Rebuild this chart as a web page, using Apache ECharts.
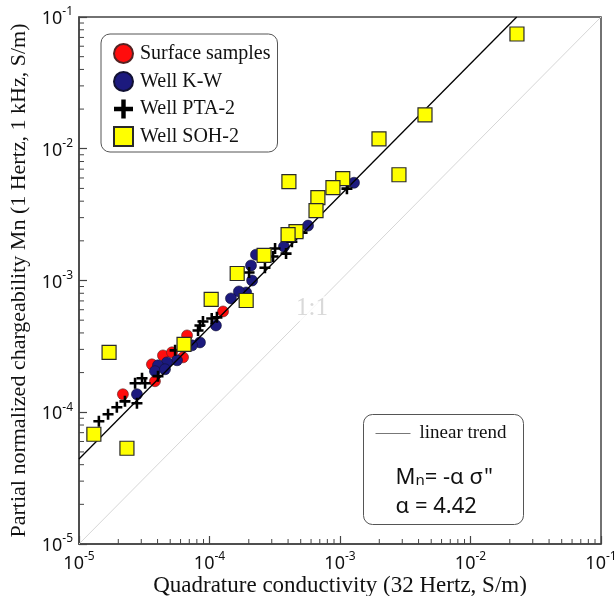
<!DOCTYPE html>
<html>
<head>
<meta charset="utf-8">
<script src="https://cdn.jsdelivr.net/npm/echarts@6/dist/echarts.min.js"></script>
<style>
html,body{margin:0;padding:0;background:#fff;}
#chart{width:616px;height:596px;}
</style>
</head>
<body>
<div id="chart"></div>
<script>
// ---- data (S/m) ----
const surfaceX = [1.27e-4, 6.73e-5, 6.27e-5, 4.40e-5, 3.62e-5, 3.82e-5, 2.17e-5, 5.16e-5];
const surfaceY = [5.82e-4, 3.83e-4, 2.61e-4, 2.70e-4, 2.31e-4, 1.72e-4, 1.37e-4, 2.85e-4];

const kwX = [1.28e-3, 5.69e-4, 3.72e-4, 2.27e-4, 2.08e-4, 2.12e-4, 1.91e-4, 1.68e-4, 1.46e-4, 1.12e-4, 8.45e-5, 7.35e-5, 5.64e-5, 4.72e-5, 4.03e-5, 3.82e-5, 4.56e-5, 2.78e-5];
const kwY = [5.52e-3, 2.61e-3, 1.81e-3, 1.57e-3, 1.30e-3, 1.00e-3, 8.11e-4, 8.26e-4, 7.31e-4, 4.56e-4, 3.39e-4, 3.22e-4, 2.48e-4, 2.39e-4, 2.27e-4, 2.05e-4, 2.12e-4, 1.37e-4];

const ptaX = [1.13e-3, 5.12e-4, 4.28e-4, 3.86e-4, 3.18e-4, 3.07e-4, 2.66e-4, 2.01e-4, 1.14e-4, 1.04e-4, 8.45e-5, 8.17e-5, 8.91e-5, 5.45e-5, 4.03e-5, 3.21e-5, 2.69e-5, 3.04e-5, 2.25e-5, 2.78e-5, 1.95e-5, 1.67e-5, 1.42e-5];
const ptaY = [4.98e-3, 2.31e-3, 1.97e-3, 1.60e-3, 1.75e-3, 1.52e-3, 1.25e-3, 1.15e-3, 5.25e-4, 5.15e-4, 4.56e-4, 4.18e-4, 4.89e-4, 2.95e-4, 1.88e-4, 1.66e-4, 1.66e-4, 1.81e-4, 1.21e-4, 1.17e-4, 1.09e-4, 9.66e-5, 8.55e-5];

const sohX = [0.0227, 4.48e-3, 1.99e-3, 2.83e-3, 1.05e-3, 8.83e-4, 6.77e-4, 6.55e-4, 4.06e-4, 4.60e-4, 4.00e-4, 2.62e-4, 1.63e-4, 1.03e-4, 1.91e-4, 6.38e-5, 1.70e-5, 1.30e-5, 2.33e-5];
const sohY = [0.0743, 0.0181, 0.0119, 6.35e-3, 5.93e-3, 5.07e-3, 4.26e-3, 3.39e-3, 5.62e-3, 2.35e-3, 2.23e-3, 1.55e-3, 1.13e-3, 7.18e-4, 7.05e-4, 3.27e-4, 2.85e-4, 6.81e-5, 5.33e-5];

const alpha = 4.42;                 // linear trend Mn = alpha * sigma''
const trendX = [1e-5, 0.0226];      // extent of the trend line
const oneToOneX = [1e-5, 0.1];      // 1:1 line extent
const oneToOneLabelAt = 6.1e-4;     // where "1:1" sits on the line
const axisMin = 1e-5, axisMax = 0.1;
const minorSteps = [2, 3, 4, 5, 6, 7, 8, 9];
const minorDecades = [-5, -4, -3, -2];

const seriesNames = ['Surface samples', 'Well K-W', 'Well PTA-2', 'Well SOH-2'];

const zip = (a, b) => a.map((v, i) => [v, b[i]]);

const SERIF = '"Liberation Serif","Times New Roman",serif';
const SANS = '"Noto Sans","Open Sans",sans-serif';
const AX = '#444';
const plusPath = 'path://M4.6,0H7.4V4.6H12V7.4H7.4V12H4.6V7.4H0V4.6H4.6Z';

const labelFmt = v => '{b|10}{s|' + Math.round(Math.log10(v)) + '}';
const labelRich = {
  b: {fontFamily: SANS, fontSize: 18, color: '#111', lineHeight: 22, verticalAlign: 'bottom'},
  s: {fontFamily: SANS, fontSize: 12, color: '#111', lineHeight: 13, verticalAlign: 'top'}
};

const chart = echarts.init(document.getElementById('chart'), null, {renderer: 'canvas'});

const option = {
  backgroundColor: '#fff',
  animation: false,
  grid: {left: 79, right: 15, top: 17, bottom: 52, outerBoundsMode: 'none', containLabel: false,
         show: true, borderColor: AX, borderWidth: 1.5, backgroundColor: 'transparent'},
  legend: {
    data: seriesNames,
    orient: 'vertical',
    left: 101, top: 34,
    backgroundColor: '#fff',
    borderColor: '#555', borderWidth: 1, borderRadius: 9,
    padding: [9, 7, 5, 12],
    itemWidth: 19, itemHeight: 19, itemGap: 7,
    textStyle: {fontFamily: SERIF, fontSize: 20, lineHeight: 19, color: '#111', padding: [0, 0, 0, 2]}
  },
  xAxis: {
    type: 'log', logBase: 10, min: axisMin, max: axisMax,
    name: 'Quadrature conductivity (32 Hertz, S/m)',
    nameLocation: 'middle', nameGap: 30, nameMoveOverlap: false,
    nameTextStyle: {fontFamily: SERIF, fontSize: 23, color: '#111'},
    axisLine: {show: true, lineStyle: {color: AX, width: 1.5}},
    axisTick: {show: true, inside: true, length: 8, lineStyle: {color: AX, width: 1.2}},
    axisLabel: {margin: 7, formatter: labelFmt, rich: labelRich, showMaxLabel: true, showMinLabel: true},
    splitLine: {show: false}
  },
  yAxis: {
    type: 'log', logBase: 10, min: axisMin, max: axisMax,
    name: 'Partial normalized chargeability Mn (1 Hertz, 1 kHz, S/m)',
    nameLocation: 'middle', nameGap: 49, nameMoveOverlap: false,
    nameTextStyle: {fontFamily: SERIF, fontSize: 22, color: '#111'},
    axisLine: {show: true, lineStyle: {color: AX, width: 1.5}},
    axisTick: {show: true, inside: true, length: 8, lineStyle: {color: AX, width: 1.2}},
    axisLabel: {margin: 6, formatter: labelFmt, rich: labelRich, showMaxLabel: true, showMinLabel: true},
    splitLine: {show: false}
  },
  series: [
    {
      type: 'custom', name: 'minorTicks', silent: true, clip: false, z: 1,
      data: [[axisMin, axisMin]],
      renderItem: (params, api) => {
        const children = [];
        minorDecades.forEach(k => minorSteps.forEach(m => {
          const v = m * Math.pow(10, k);
          const pb = api.coord([v, axisMin]);
          children.push({type: 'line', shape: {x1: pb[0], y1: pb[1], x2: pb[0], y2: pb[1] - 5}, style: {stroke: AX, lineWidth: 1}});
          const pl = api.coord([axisMin, v]);
          children.push({type: 'line', shape: {x1: pl[0], y1: pl[1], x2: pl[0] + 5, y2: pl[1]}, style: {stroke: AX, lineWidth: 1}});
        }));
        return {type: 'group', children};
      }
    },
    {
      type: 'line', name: '1:1', silent: true, z: 1,
      data: oneToOneX.map(v => [v, v]),
      showSymbol: false, symbol: 'none',
      lineStyle: {color: '#d6d6d6', width: 1}
    },
    {
      type: 'scatter', name: '1:1 label', silent: true, z: 2,
      data: [[oneToOneLabelAt, oneToOneLabelAt]],
      symbolSize: 0,
      label: {show: true, position: 'inside', formatter: '1:1', fontFamily: SERIF, fontSize: 25, color: '#d0d0d0', backgroundColor: '#fff', padding: [0, 2]}
    },
    {
      type: 'scatter', name: seriesNames[0], z: 3,
      data: zip(surfaceX, surfaceY),
      symbol: 'circle', symbolSize: 11,
      itemStyle: {color: '#ff0d0d', borderColor: '#552222', borderWidth: 0.6, opacity: 1}
    },
    {
      type: 'scatter', name: seriesNames[1], z: 4,
      data: zip(kwX, kwY),
      symbol: 'circle', symbolSize: 11,
      itemStyle: {color: '#1c1a7e', borderColor: '#111133', borderWidth: 0.6, opacity: 1}
    },
    {
      type: 'scatter', name: seriesNames[2], z: 5,
      data: zip(ptaX, ptaY),
      symbol: plusPath, symbolSize: 11,
      itemStyle: {color: '#000', opacity: 1}
    },
    {
      type: 'line', name: 'linear trend', silent: true, z: 6,
      data: trendX.map(v => [v, alpha * v]),
      showSymbol: false, symbol: 'none',
      lineStyle: {color: '#000', width: 1.3}
    },
    {
      type: 'scatter', name: seriesNames[3], z: 7,
      data: zip(sohX, sohY),
      symbol: 'rect', symbolSize: 14,
      itemStyle: {color: '#ffff00', borderColor: '#2a2a2a', borderWidth: 1.2, opacity: 1}
    }
  ],
  graphic: [
    {
      type: 'group', left: 363, top: 414, z: 100,
      children: [
        {type: 'rect', shape: {x: 0, y: 0, width: 160, height: 110, r: 9}, style: {fill: '#fff', stroke: '#555', lineWidth: 1}},
        {type: 'line', shape: {x1: 12, y1: 19, x2: 47, y2: 19}, style: {stroke: '#777', lineWidth: 1}},
        {type: 'text', x: 56, y: 19, style: {text: 'linear trend', fontFamily: SERIF, fontSize: 19, fill: '#111', verticalAlign: 'middle'}},
        {type: 'text', x: 32, y: 61, style: {
          text: '{a|M}{b|n}{a|= -α σ"}',
          verticalAlign: 'middle',
          rich: {
            a: {fontFamily: SANS, fontSize: 22, fill: '#111', lineHeight: 26, verticalAlign: 'bottom'},
            b: {fontFamily: SANS, fontSize: 15, fill: '#111', lineHeight: 15, verticalAlign: 'bottom'}
          }
        }},
        {type: 'text', x: 32, y: 92, style: {text: 'α = 4.42', fontFamily: SANS, fontSize: 22, fill: '#111', verticalAlign: 'middle'}}
      ]
    }
  ]
};

chart.setOption(option);
</script>
</body>
</html>
